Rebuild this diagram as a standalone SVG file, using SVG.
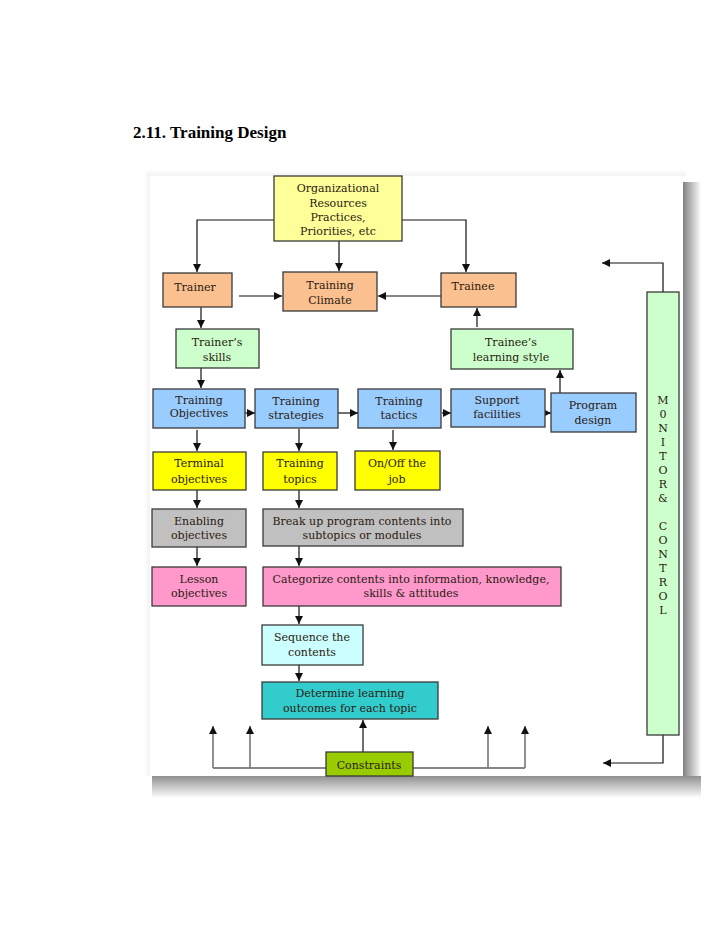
<svg xmlns="http://www.w3.org/2000/svg" width="728" height="943" viewBox="0 0 728 943">
<defs>
<marker id="ah" markerUnits="userSpaceOnUse" markerWidth="9" markerHeight="9" refX="8" refY="4.5" orient="auto">
<path d="M0,0.5 L8,4.5 L0,8.5 Z" fill="#111"/>
</marker>
<linearGradient id="shR" x1="0" y1="0" x2="1" y2="0">
<stop offset="0" stop-color="#808080"/>
<stop offset="1" stop-color="#ffffff"/>
</linearGradient>
<linearGradient id="shB" x1="0" y1="0" x2="0" y2="1">
<stop offset="0" stop-color="#909090"/>
<stop offset="1" stop-color="#ffffff"/>
</linearGradient>
<linearGradient id="shT" x1="0" y1="0" x2="0" y2="1">
<stop offset="0" stop-color="#ffffff"/>
<stop offset="1" stop-color="#f2f2f2"/>
</linearGradient>
<linearGradient id="shL" x1="0" y1="0" x2="1" y2="0">
<stop offset="0" stop-color="#ffffff"/>
<stop offset="1" stop-color="#f2f2f2"/>
</linearGradient>
</defs>
<style>
.box{stroke:#3a3a3a;stroke-width:1.3}
.t{font-family:"DejaVu Serif","Liberation Serif",serif;font-size:11px;fill:#2a1a10;text-anchor:middle}
.c{stroke:#111;stroke-width:1.2;fill:none}
.g{stroke:#777;stroke-width:1.6;fill:none}
.title{font-family:"Liberation Serif",serif;font-weight:bold;font-size:17px;fill:#000}
</style>
<rect width="728" height="943" fill="#fff"/>
<text class="title" x="133" y="138">2.11. Training Design</text>

<g id="frame">
<rect x="146" y="170" width="540" height="6" fill="url(#shT)"/>
<rect x="144" y="176" width="6" height="600" fill="url(#shL)"/>
<rect x="683" y="182" width="18" height="602" fill="url(#shR)"/>
<rect x="152" y="776" width="549" height="22" fill="url(#shB)"/>
<rect x="150" y="176" width="533" height="600" fill="#fff"/>
</g>

<g id="connectors">
<polyline class="c" points="274,220 197,220 197,272" marker-end="url(#ah)"/>
<polyline class="c" points="402,220 466,220 466,272" marker-end="url(#ah)"/>
<line class="c" x1="339" y1="241" x2="339" y2="271" marker-end="url(#ah)"/>
<line class="c" x1="239" y1="296" x2="282" y2="296" marker-end="url(#ah)"/>
<line class="c" x1="441" y1="296" x2="378" y2="296" marker-end="url(#ah)"/>
<line class="c" x1="477" y1="327" x2="477" y2="308" marker-end="url(#ah)"/>
<line class="c" x1="201" y1="307" x2="201" y2="328" marker-end="url(#ah)"/>
<line class="c" x1="201" y1="368" x2="201" y2="388" marker-end="url(#ah)"/>
<line class="c" x1="245" y1="413" x2="255" y2="413" marker-end="url(#ah)"/>
<line class="c" x1="338" y1="413" x2="358" y2="413" marker-end="url(#ah)"/>
<line class="c" x1="442" y1="413" x2="451" y2="413" marker-end="url(#ah)"/>
<line class="c" x1="545" y1="413" x2="551" y2="413" marker-end="url(#ah)"/>
<line class="c" x1="560" y1="393" x2="560" y2="370" marker-end="url(#ah)"/>
<line class="c" x1="197" y1="430" x2="197" y2="451" marker-end="url(#ah)"/>
<line class="c" x1="299" y1="429" x2="299" y2="451" marker-end="url(#ah)"/>
<line class="c" x1="393" y1="430" x2="393" y2="450" marker-end="url(#ah)"/>
<line class="c" x1="197" y1="490" x2="197" y2="508" marker-end="url(#ah)"/>
<line class="c" x1="299" y1="490" x2="299" y2="508" marker-end="url(#ah)"/>
<line class="c" x1="197" y1="547" x2="197" y2="566" marker-end="url(#ah)"/>
<line class="c" x1="299" y1="546" x2="299" y2="566" marker-end="url(#ah)"/>
<line class="c" x1="299" y1="606" x2="299" y2="624" marker-end="url(#ah)"/>
<line class="c" x1="299" y1="665" x2="299" y2="681" marker-end="url(#ah)"/>
<line class="c" x1="363" y1="752" x2="363" y2="720" marker-end="url(#ah)"/>
<line class="c" x1="213" y1="768" x2="525" y2="768"/>
<line class="g" x1="213" y1="768" x2="213" y2="726" marker-end="url(#ah)"/>
<line class="g" x1="250" y1="768" x2="250" y2="726" marker-end="url(#ah)"/>
<line class="g" x1="488" y1="768" x2="488" y2="726" marker-end="url(#ah)"/>
<line class="g" x1="525" y1="768" x2="525" y2="726" marker-end="url(#ah)"/>
<polyline class="c" points="663,292 663,263 602,263" marker-end="url(#ah)"/>
<polyline class="c" points="663,735 663,763 603,763" marker-end="url(#ah)"/>
</g>

<g id="org">
<rect class="box" x="274" y="176" width="128" height="65" fill="#ffff99"/>
<text class="t" x="338" y="192">Organizational</text>
<text class="t" x="338" y="207">Resources</text>
<text class="t" x="338" y="221">Practices,</text>
<text class="t" x="338" y="235">Priorities, etc</text>
</g>
<g id="trainer">
<rect class="box" x="163" y="273" width="69" height="34" fill="#fac090"/>
<text class="t" x="195" y="291">Trainer</text>
</g>
<g id="climate">
<rect class="box" x="283" y="272" width="94" height="39" fill="#fac090"/>
<text class="t" x="330" y="289">Training</text>
<text class="t" x="330" y="304">Climate</text>
</g>
<g id="trainee">
<rect class="box" x="441" y="273" width="75" height="34" fill="#fac090"/>
<text class="t" x="473" y="290">Trainee</text>
</g>
<g id="trainers-skills">
<rect class="box" x="176" y="329" width="83" height="39" fill="#ccffcc"/>
<text class="t" x="217" y="346">Trainer’s</text>
<text class="t" x="217" y="361">skills</text>
</g>
<g id="learning-style">
<rect class="box" x="451" y="329" width="122" height="40" fill="#ccffcc"/>
<text class="t" x="511" y="346">Trainee’s</text>
<text class="t" x="511" y="361">learning style</text>
</g>
<g id="objectives">
<rect class="box" x="153" y="389" width="92" height="39" fill="#99ccff"/>
<text class="t" x="199" y="404">Training</text>
<text class="t" x="199" y="417">Objectives</text>
</g>
<g id="strategies">
<rect class="box" x="255" y="389" width="83" height="39" fill="#99ccff"/>
<text class="t" x="296" y="405">Training</text>
<text class="t" x="296" y="419">strategies</text>
</g>
<g id="tactics">
<rect class="box" x="358" y="389" width="83" height="39" fill="#99ccff"/>
<text class="t" x="399" y="405">Training</text>
<text class="t" x="399" y="419">tactics</text>
</g>
<g id="support">
<rect class="box" x="451" y="389" width="94" height="38" fill="#99ccff"/>
<text class="t" x="497" y="404">Support</text>
<text class="t" x="497" y="418">facilities</text>
</g>
<g id="program">
<rect class="box" x="551" y="393" width="85" height="39" fill="#99ccff"/>
<text class="t" x="593" y="409">Program</text>
<text class="t" x="593" y="424">design</text>
</g>
<g id="terminal">
<rect class="box" x="153" y="452" width="93" height="38" fill="#ffff00"/>
<text class="t" x="199" y="467">Terminal</text>
<text class="t" x="199" y="483">objectives</text>
</g>
<g id="topics">
<rect class="box" x="263" y="452" width="74" height="38" fill="#ffff00"/>
<text class="t" x="300" y="467">Training</text>
<text class="t" x="300" y="483">topics</text>
</g>
<g id="onoff">
<rect class="box" x="355" y="451" width="85" height="39" fill="#ffff00"/>
<text class="t" x="397" y="467">On/Off the</text>
<text class="t" x="397" y="483">job</text>
</g>
<g id="enabling">
<rect class="box" x="152" y="509" width="94" height="38" fill="#c0c0c0"/>
<text class="t" x="199" y="525">Enabling</text>
<text class="t" x="199" y="539">objectives</text>
</g>
<g id="breakup">
<rect class="box" x="263" y="509" width="200" height="37" fill="#c0c0c0"/>
<text class="t" x="362" y="525">Break up program contents into</text>
<text class="t" x="362" y="539">subtopics or modules</text>
</g>
<g id="lesson">
<rect class="box" x="152" y="567" width="94" height="39" fill="#ff99cc"/>
<text class="t" x="199" y="583">Lesson</text>
<text class="t" x="199" y="597">objectives</text>
</g>
<g id="categorize">
<rect class="box" x="263" y="567" width="298" height="39" fill="#ff99cc"/>
<text class="t" x="411" y="583">Categorize contents into information, knowledge,</text>
<text class="t" x="411" y="597">skills &amp; attitudes</text>
</g>
<g id="sequence">
<rect class="box" x="262" y="625" width="101" height="40" fill="#ccffff"/>
<text class="t" x="312" y="641">Sequence the</text>
<text class="t" x="312" y="656">contents</text>
</g>
<g id="determine">
<rect class="box" x="262" y="682" width="176" height="37" fill="#33cccc"/>
<text class="t" x="350" y="697">Determine learning</text>
<text class="t" x="350" y="712">outcomes for each topic</text>
</g>
<g id="constraints">
<rect class="box" x="326" y="752" width="87" height="24" fill="#99cc00"/>
<text class="t" x="369" y="769">Constraints</text>
</g>
<g id="monitor">
<rect class="box" x="647" y="292" width="32" height="443" fill="#ccffcc"/>
<text class="t" x="663" y="404">M</text>
<text class="t" x="663" y="418">0</text>
<text class="t" x="663" y="432">N</text>
<text class="t" x="663" y="446">I</text>
<text class="t" x="663" y="460">T</text>
<text class="t" x="663" y="474">O</text>
<text class="t" x="663" y="488">R</text>
<text class="t" x="663" y="502">&amp;</text>
<text class="t" x="663" y="530">C</text>
<text class="t" x="663" y="544">O</text>
<text class="t" x="663" y="558">N</text>
<text class="t" x="663" y="572">T</text>
<text class="t" x="663" y="586">R</text>
<text class="t" x="663" y="600">O</text>
<text class="t" x="663" y="614">L</text>
</g>
</svg>
